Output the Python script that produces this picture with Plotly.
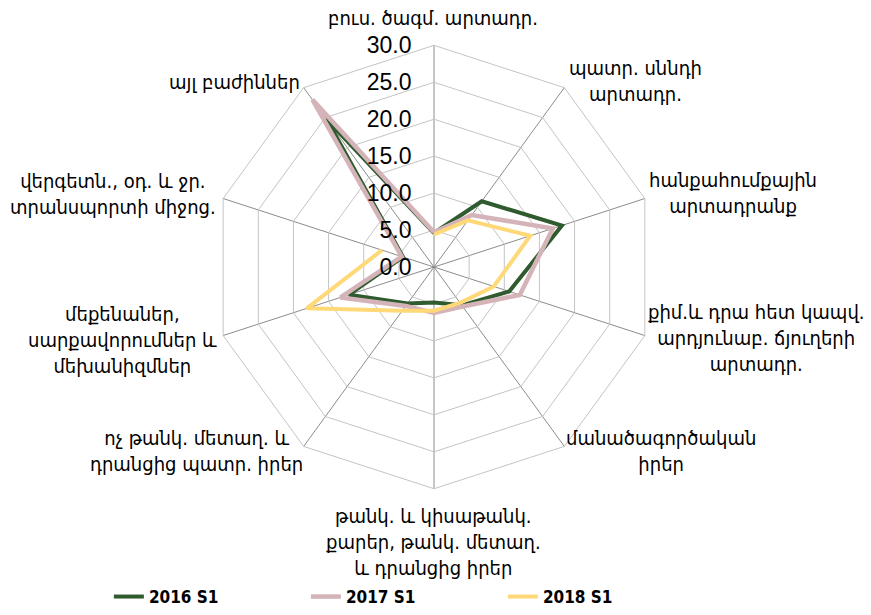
import plotly.graph_objects as go

# Export structure by product group (share, %), first half-year
categories = [
    "բուս. ծագմ. արտադր.",
    "պատր. սննդի արտադր.",
    "հանքահումքային արտադրանք",
    "քիմ.և դրա հետ կապվ. արդյունաբ. ճյուղերի արտադր.",
    "մանածագործական իրեր",
    "թանկ. և կիսաթանկ. քարեր, թանկ. մետաղ. և դրանցից իրեր",
    "ոչ թանկ. մետաղ. և դրանցից պատր. իրեր",
    "մեքենաներ, սարքավորումներ և մեխանիզմներ",
    "վերգետն., օդ. և ջր. տրանսպորտի միջոց.",
    "այլ բաժիններ",
]

# Category labels as displayed (with line breaks)
category_labels = [
    "բուս. ծագմ. արտադր.",
    "պատր. սննդի<br>արտադր.",
    "հանքահումքային<br>արտադրանք",
    "քիմ.և դրա հետ կապվ.<br>արդյունաբ. ճյուղերի<br>արտադր.",
    "մանածագործական<br>իրեր",
    "թանկ. և կիսաթանկ.<br>քարեր, թանկ. մետաղ.<br>և դրանցից իրեր",
    "ոչ թանկ. մետաղ. և<br>դրանցից պատր. իրեր",
    "մեքենաներ,<br>սարքավորումներ և<br>մեխանիզմներ",
    "վերգետն., օդ. և ջր.<br>տրանսպորտի միջոց.",
    "այլ բաժիններ",
]

series_names = ["2016 S1", "2017 S1", "2018 S1"]
values_2016 = [4.6, 11.0, 18.2, 10.7, 6.4, 4.8, 6.1, 12.1, 4.4, 24.8]
values_2017 = [4.7, 8.7, 16.9, 12.2, 6.6, 6.2, 6.5, 13.3, 4.6, 28.0]
values_2018 = [4.4, 7.8, 13.7, 8.5, 6.0, 5.9, 7.3, 18.1, 7.4, None]

radial_ticks = [0, 5, 10, 15, 20, 25, 30]

colors = ["#2F5B2F", "#D4B4B8", "#FFD978"]
widths = [4, 4.5, 4]

# label anchor positions (pixels from top-left) for each category
label_pos = [
    (433, 18), (635, 82), (733, 196), (756, 343), (661, 458),
    (433, 550), (196, 458), (122, 345), (113, 197), (234, 83),
]

W, H = 871, 615

fig = go.Figure()
for name, vals, col, lw in zip(series_names, [values_2016, values_2017, values_2018], colors, widths):
    fig.add_trace(go.Scatterpolar(
        r=vals + [vals[0]],
        theta=categories + [categories[0]],
        mode="lines",
        name=name,
        line=dict(color=col, width=lw),
        connectgaps=False,
        hoverinfo="skip",
    ))

cx, cy, R = 434, 271, 225
fig.update_layout(
    width=W, height=H,
    margin=dict(l=0, r=0, t=0, b=0),
    paper_bgcolor="white",
    plot_bgcolor="white",
    showlegend=True,
    polar=dict(
        domain=dict(x=[(cx - R) / W, (cx + R) / W], y=[(H - cy - R) / H, (H - cy + R) / H]),
        bgcolor="white",
        gridshape="linear",
        radialaxis=dict(
            range=[0, 30],
            tickvals=radial_ticks,
            tickformat=".1f",
            angle=90,
            side="counterclockwise",
            showline=False,
            gridcolor="#C4C4C4",
            gridwidth=1,
            ticks="outside",
            ticklen=14,
            tickcolor="rgba(0,0,0,0)",
            tickfont=dict(family="Liberation Sans, Arial", size=23, color="#000000"),
            tickangle=90,
        ),
        angularaxis=dict(
            rotation=90,
            direction="clockwise",
            showticklabels=False,
            ticks="",
            gridcolor="#8C8C8C",
            gridwidth=1,
            showline=True,
            linecolor="#C4C4C4",
            linewidth=1,
        ),
    ),
    legend=dict(
        orientation="h",
        x=0.125, y=(H - 606) / H,
        xanchor="left", yanchor="middle",
        entrywidth=152, entrywidthmode="pixels",
        font=dict(family="DejaVu Sans Condensed, Arial Narrow", size=17, color="#000000", weight="bold"),
        bgcolor="rgba(0,0,0,0)",
        itemwidth=30,
    ),
)

for text, (x, y) in zip(category_labels, label_pos):
    fig.add_annotation(
        x=x / W, y=1 - y / H, xref="paper", yref="paper",
        text=text, showarrow=False, align="center",
        xanchor="center", yanchor="middle",
        font=dict(family="DejaVu Sans Condensed, DejaVu Sans", size=20, color="#000000"),
    )

fig.write_html("out.html")
